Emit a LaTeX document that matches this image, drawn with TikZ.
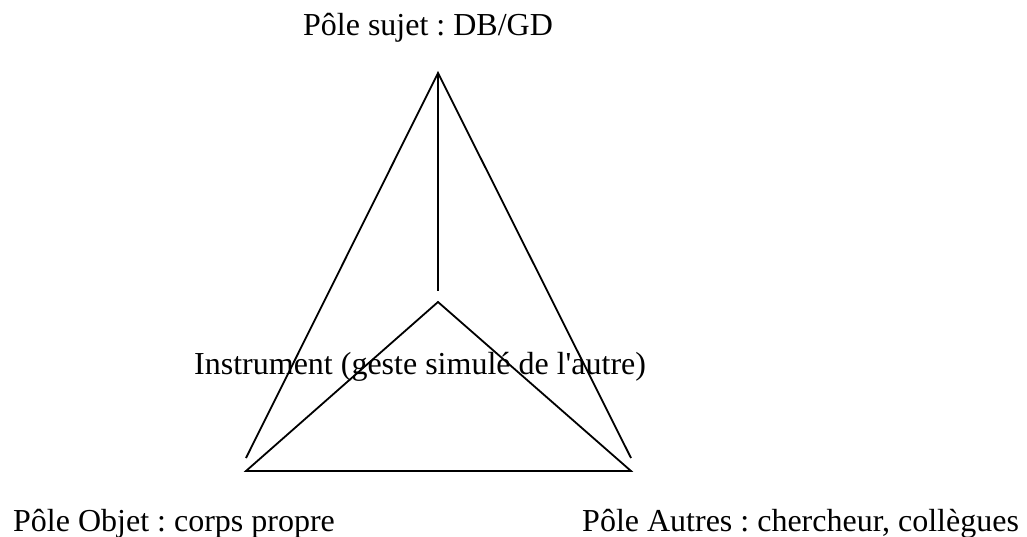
\documentclass[tikz,border=0pt]{standalone}
\usepackage{fontspec}
\setmainfont{Liberation Serif}
\frenchspacing
\begin{document}
\begin{tikzpicture}[x=1pt,y=-1pt,
  lbl/.style={inner sep=0pt, font=\fontsize{32}{38}\selectfont},
  edge/.style={line width=1.8pt, line join=miter}]
\useasboundingbox (0,0) rectangle (1027,537);
% points
\coordinate (apex) at (438,73);
\coordinate (outL) at (246,458);
\coordinate (outR) at (631,458);
\coordinate (stem) at (438,291);
\coordinate (inT) at (438,302);
\coordinate (inL) at (246,471);
\coordinate (inR) at (631,471);
% labels
\node[lbl, anchor=base] (sujet) at (428,36) {Pôle sujet : DB/GD};
\node[lbl, anchor=base west] (instr) at (194,374) {Instrument (geste simulé de l\textquotesingle autre)};
\node[lbl, anchor=base west] (objet) at (13,531) {Pôle Objet : corps propre};
\node[lbl, anchor=base west] (autres) at (582,531) {Pôle Autres : chercheur, collègues};
% lines
\draw[edge] (outL) -- (apex) -- (outR);
\draw[edge] (apex) -- (stem);
\draw[edge] (inT) -- (inL) -- (inR) -- cycle;
\end{tikzpicture}
\end{document}
